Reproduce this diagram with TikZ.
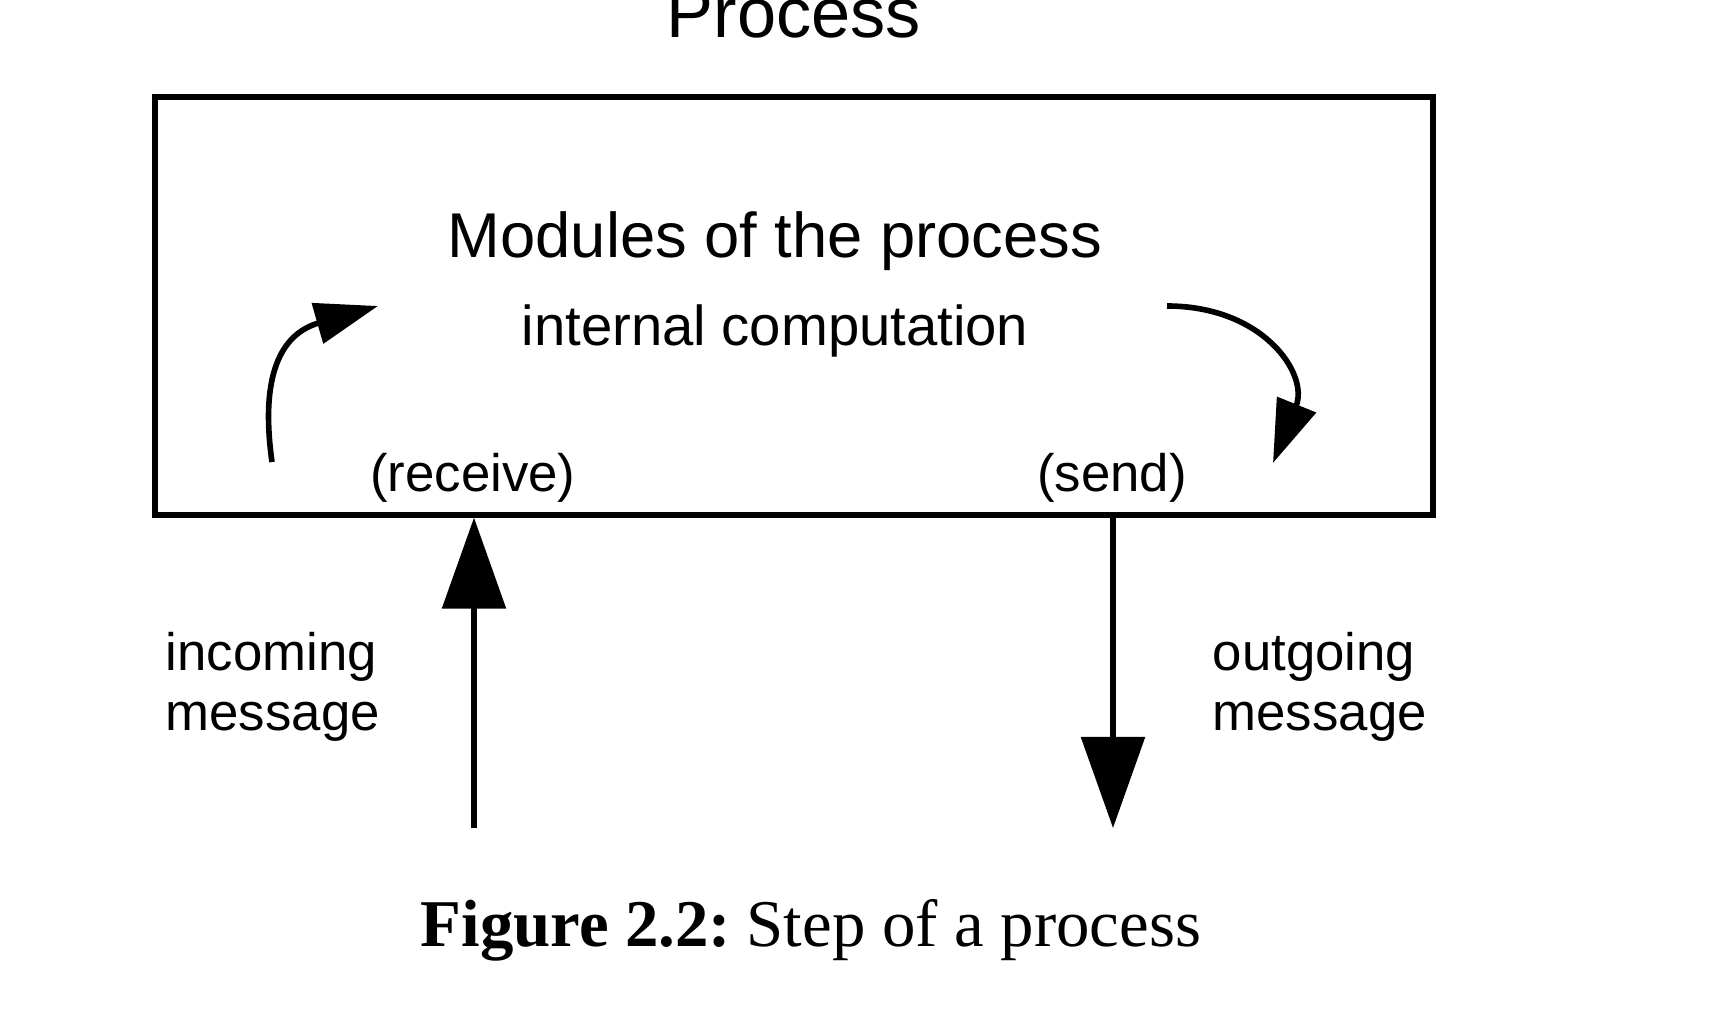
\documentclass[tikz,border=0pt]{standalone}
\usepackage{fontspec}
\setmainfont{Liberation Sans}
\newfontfamily\captionfont{Liberation Serif}
\usetikzlibrary{arrows.meta}

\begin{document}
\begin{tikzpicture}[
        x=0.01cm, y=-0.01cm,
        text node/.style={inner sep=0pt, anchor=base},
        big arrow/.style={line width=1.6pt, -{Triangle[length=0.91cm,width=0.63cm]}},
        bent arrow/.style={line width=1.6pt, -{Triangle[length=0.63cm,width=0.41cm]}},
    ]
    \useasboundingbox (0,0) rectangle (1724,1028);

    % the process box
    \node[draw, line width=1.5pt, inner sep=0pt, minimum width=1278*0.01cm,
          minimum height=418*0.01cm] (proc) at (794,306) {};
    \node[text node, font=\fontsize{20}{24}\selectfont] (title) at (794,38) {Process};
    \node[text node, font=\fontsize{18}{22}\selectfont] (modules) at (775,258) {Modules of the process};
    \node[text node, font=\fontsize{16}{19}\selectfont] (internal) at (775,346) {internal computation};
    \node[text node, font=\fontsize{15}{17}\selectfont] (receive) at (473,492) {(receive)};
    \node[text node, font=\fontsize{15}{17}\selectfont] (send) at (1112,492) {(send)};

    % messages
    \node[text node, anchor=base west, align=left, font=\fontsize{15}{17.3}\selectfont]
        (incoming) at (165,731) {incoming\\message};
    \node[text node, anchor=base west, align=left, font=\fontsize{15}{17.3}\selectfont]
        (outgoing) at (1212,731) {outgoing\\message};

    \coordinate (in) at (474,828);
    \coordinate (out) at (1113,828);
    \draw[big arrow] (in) -- (in |- proc.south);
    \draw[big arrow] (out |- proc.south) -- (out);

    % internal steps
    \coordinate (r1) at (272,462);
    \coordinate (r2) at (378,306);
    \coordinate (s1) at (1167,306);
    \coordinate (s2) at (1273,463);
    \draw[bent arrow] (r1) to[out=98, in=196, looseness=1.3] (r2);
    \draw[bent arrow] (s1) to[out=0, in=68, looseness=1.3] (s2);

    \node[text node, font=\captionfont\fontsize{19}{23}\selectfont] (caption) at (811,946)
        {\textbf{Figure 2.2:}\hspace{-0.1em} Step of a process};
\end{tikzpicture}
\end{document}
